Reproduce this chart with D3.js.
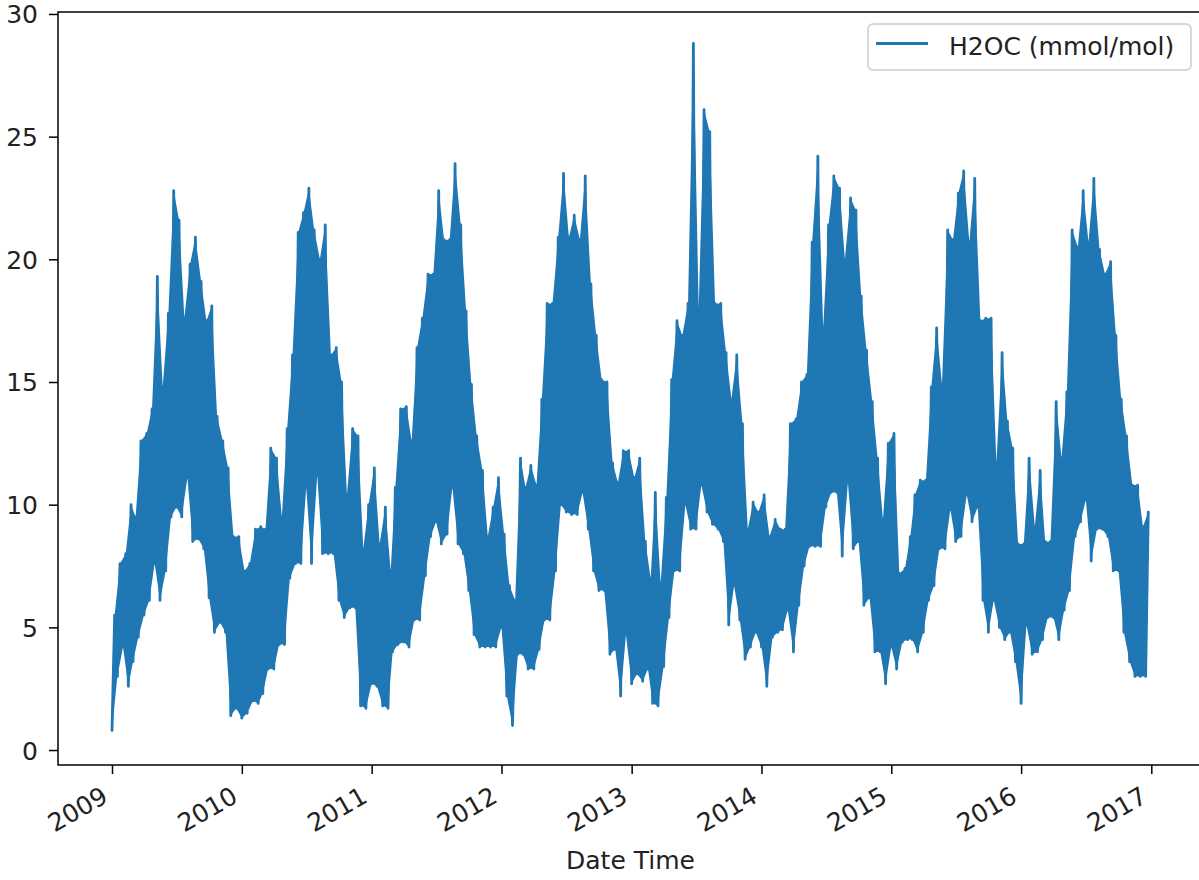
<!DOCTYPE html>
<html>
<head>
<meta charset="utf-8">
<script src="https://cdn.jsdelivr.net/npm/d3@7"></script>
<style>
  body { margin: 0; background: #ffffff; }
  svg { display: block; }
  text { font-family: "DejaVu Sans", sans-serif; fill: #222; }
</style>
</head>
<body>
<svg id="chart" width="1199" height="880"></svg>
<script>
// ---------------- data ----------------
// Half-monthly envelope of H2OC (mmol/mol): slot i of a year starts on day 1 (even i) or 16 (odd i) of month floor(i/2)
const years = [2009, 2010, 2011, 2012, 2013, 2014, 2015, 2016];

const high2009 = [5.5, 7.6, 8.0, 10.0, 9.5, 12.6, 12.9, 13.9, 19.3, 14.8, 17.8, 22.8, 21.6, 17.6, 19.8, 20.9, 19.1, 17.5, 18.1, 13.6, 12.6, 11.5, 8.7, 8.7];
const low2009  = [0.8, 3.0, 4.2, 2.6, 3.6, 4.6, 5.5, 6.1, 7.6, 6.1, 7.3, 9.5, 9.9, 9.5, 11.1, 8.5, 8.6, 8.2, 6.2, 4.8, 5.2, 4.8, 1.4, 1.7];

const high2010 = [7.3, 7.6, 9.0, 9.1, 9.0, 12.3, 11.9, 9.5, 13.1, 16.1, 21.1, 21.9, 22.9, 21.2, 20.0, 21.4, 16.1, 16.4, 15.0, 10.4, 13.1, 12.8, 8.2, 10.0];
const low2010  = [1.3, 1.5, 2.0, 1.9, 2.3, 3.3, 3.3, 4.3, 4.3, 7.0, 7.6, 7.6, 10.7, 7.6, 11.2, 8.0, 8.0, 8.0, 6.1, 5.4, 5.8, 5.8, 1.8, 1.7];

const high2011 = [11.5, 8.4, 9.9, 7.3, 10.7, 13.9, 14.0, 12.6, 16.4, 17.6, 19.4, 19.4, 22.8, 20.8, 20.8, 23.9, 21.4, 17.9, 14.9, 12.8, 11.4, 8.7, 9.9, 11.1];
const low2011  = [2.7, 2.6, 1.8, 1.7, 4.0, 4.3, 4.4, 4.2, 5.3, 5.3, 7.1, 8.7, 9.3, 8.4, 8.8, 10.7, 8.4, 8.0, 6.5, 4.7, 4.2, 4.2, 4.2, 4.2];

const high2012 = [8.8, 6.7, 6.1, 11.9, 10.7, 11.6, 10.8, 14.3, 18.2, 18.2, 20.9, 23.5, 20.9, 21.8, 20.8, 23.4, 19.0, 16.9, 15.1, 15.0, 11.7, 10.9, 12.2, 12.2];
const low2012  = [5.0, 2.2, 1.0, 3.9, 3.9, 3.3, 3.3, 4.1, 5.3, 5.3, 7.3, 10.0, 9.7, 9.6, 9.6, 10.5, 9.0, 7.3, 6.5, 6.5, 3.9, 4.1, 2.2, 4.7];

const high2013 = [11.1, 11.9, 8.5, 7.0, 10.5, 6.8, 10.3, 15.1, 17.5, 16.9, 18.2, 28.8, 18.0, 26.1, 25.2, 18.2, 18.2, 16.2, 14.3, 16.1, 13.3, 9.0, 10.1, 9.7];
const low2013  = [2.7, 3.1, 2.8, 3.3, 1.9, 1.8, 3.4, 5.4, 7.3, 7.3, 10.0, 9.0, 9.0, 10.8, 9.7, 9.2, 9.0, 8.5, 5.1, 6.7, 5.3, 3.7, 4.2, 4.8];

const high2014 = [10.4, 8.7, 9.4, 9.0, 9.0, 13.3, 13.5, 15.0, 15.3, 20.7, 24.2, 17.2, 21.4, 23.4, 22.9, 20.0, 22.5, 22.0, 18.5, 16.3, 14.2, 11.9, 9.4, 12.5];
const low2014  = [4.2, 2.6, 4.6, 4.8, 4.9, 5.7, 4.0, 5.9, 7.5, 8.3, 8.3, 8.3, 9.9, 10.5, 10.5, 7.9, 10.9, 8.2, 8.5, 5.9, 6.2, 4.0, 4.0, 2.7];

const high2015 = [12.9, 7.2, 7.4, 8.7, 10.4, 11.0, 11.0, 14.8, 17.2, 14.9, 21.2, 20.8, 22.7, 23.6, 20.7, 23.3, 17.5, 17.6, 17.6, 11.7, 16.2, 13.4, 12.3, 8.4];
const low2015  = [4.2, 3.3, 4.4, 4.5, 4.5, 4.0, 4.8, 6.1, 6.7, 8.2, 8.2, 9.8, 8.5, 8.7, 10.4, 9.3, 9.9, 6.1, 4.8, 6.1, 5.0, 4.5, 4.8, 3.6];

const high2016 = [8.4, 11.9, 9.1, 11.4, 8.5, 8.5, 14.2, 11.9, 14.6, 21.2, 20.5, 22.8, 20.7, 23.3, 20.4, 19.4, 19.9, 16.9, 14.3, 12.8, 10.8, 10.8, 9.1, 9.7];
const low2016  = [1.9, 5.1, 3.9, 4.0, 4.5, 5.4, 5.4, 4.5, 5.7, 6.5, 8.7, 9.3, 10.2, 7.7, 9.0, 9.0, 8.7, 7.3, 7.3, 4.8, 3.6, 3.0, 3.0, 3.0];

const xTickYears = [2009, 2010, 2011, 2012, 2013, 2014, 2015, 2016, 2017];
const yTickValues = [0, 5, 10, 15, 20, 25, 30];
const seriesName = "H2OC (mmol/mol)";
const xAxisLabel = "Date Time";

// ---------------- build the series ----------------
const highs = [high2009, high2010, high2011, high2012, high2013, high2014, high2015, high2016];
const lows  = [low2009, low2010, low2011, low2012, low2013, low2014, low2015, low2016];

const points = [];   // zig-zag trace: low at slot start, high a week later
const band = [];     // envelope of each slot
years.forEach((yr, k) => {
  for (let i = 0; i < 24; i++) {
    const m = Math.floor(i / 2), d = (i % 2) ? 16 : 1;
    const tLow = new Date(Date.UTC(yr, m, d));
    const tHigh = new Date(Date.UTC(yr, m, d + 7, 12));
    points.push({ t: tLow, v: lows[k][i] });
    points.push({ t: tHigh, v: highs[k][i] });
    band.push({ tLow, tHigh, lo: lows[k][i], hi: highs[k][i] });
  }
});

// ---------------- layout ----------------
const FS = 25;
const COLOR = "#1f77b4";
const frame = { left: 58, right: 1203, top: 12, bottom: 765 };
const svg = d3.select("#chart");

const x = d3.scaleUtc()
  .domain([new Date(Date.UTC(2009, 0, 1)), new Date(Date.UTC(2017, 0, 1))])
  .range([112, 1151.3]);
const y = d3.scaleLinear().domain([-0.61, 30.08]).range([frame.bottom, frame.top]);

svg.append("defs").append("clipPath").attr("id", "plotclip")
  .append("rect")
  .attr("x", frame.left).attr("y", frame.top)
  .attr("width", frame.right - frame.left).attr("height", frame.bottom - frame.top);

const plot = svg.append("g").attr("clip-path", "url(#plotclip)");

// dense body of the trace (lower edge through the lows, upper edge through the highs)
const area = d3.area()
  .x0(d => x(d.tLow)).y0(d => y(d.lo))
  .x1(d => x(d.tHigh)).y1(d => y(d.hi));
plot.append("path")
  .datum(band)
  .attr("d", area)
  .attr("fill", COLOR)
  .attr("stroke", "none");

// the trace itself
const line = d3.line().x(d => x(d.t)).y(d => y(d.v));
plot.append("path")
  .datum(points)
  .attr("d", line)
  .attr("fill", "none")
  .attr("stroke", COLOR)
  .attr("stroke-width", 2.8)
  .attr("stroke-linejoin", "round")
  .attr("stroke-linecap", "round");

// frame (spines)
svg.append("rect")
  .attr("x", frame.left).attr("y", frame.top)
  .attr("width", frame.right - frame.left).attr("height", frame.bottom - frame.top)
  .attr("fill", "none").attr("stroke", "#000").attr("stroke-width", 1.5);

// y axis
const yAxis = svg.append("g")
  .attr("transform", `translate(${frame.left},0)`)
  .call(d3.axisLeft(y).tickValues(yTickValues).tickSize(9).tickPadding(11).tickFormat(d3.format("d")));
yAxis.select(".domain").remove();
yAxis.selectAll(".tick line").attr("stroke", "#000").attr("stroke-width", 1.5);
yAxis.selectAll(".tick text")
  .style("font-family", '"DejaVu Sans", sans-serif')
  .style("font-size", FS + "px")
  .attr("fill", "#222")
  .attr("dy", "0.36em");

// x axis
const xAxis = svg.append("g")
  .attr("transform", `translate(0,${frame.bottom})`)
  .call(d3.axisBottom(x)
    .tickValues(xTickYears.map(yr => new Date(Date.UTC(yr, 0, 1))))
    .tickSize(9)
    .tickFormat(d3.utcFormat("%Y")));
xAxis.select(".domain").remove();
xAxis.selectAll(".tick line").attr("stroke", "#000").attr("stroke-width", 1.5);
xAxis.selectAll(".tick text")
  .style("font-family", '"DejaVu Sans", sans-serif')
  .style("font-size", FS + "px")
  .attr("fill", "#222")
  .attr("y", 0).attr("dy", null)
  .attr("text-anchor", "end")
  .attr("transform", "translate(-3,36) rotate(-30)");

// x axis label
svg.append("text")
  .attr("x", (frame.left + frame.right) / 2)
  .attr("y", 869)
  .attr("text-anchor", "middle")
  .style("font-size", FS + "px")
  .text(xAxisLabel);

// legend
const lg = svg.append("g");
lg.append("rect")
  .attr("x", 868).attr("y", 24).attr("width", 323).attr("height", 46).attr("rx", 5)
  .attr("fill", "#fff").attr("fill-opacity", 0.8)
  .attr("stroke", "#cccccc").attr("stroke-width", 1.5);
lg.append("line")
  .attr("x1", 876).attr("x2", 928).attr("y1", 43.5).attr("y2", 43.5)
  .attr("stroke", COLOR).attr("stroke-width", 2.8);
lg.append("text")
  .attr("x", 949).attr("y", 55)
  .style("font-size", FS + "px")
  .text(seriesName);
</script>
</body>
</html>
